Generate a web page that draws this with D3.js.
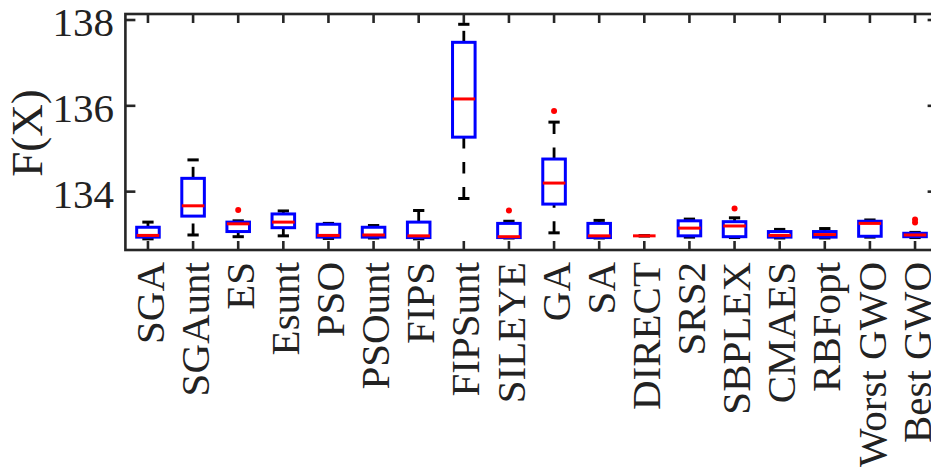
<!DOCTYPE html>
<html>
<head>
<meta charset="utf-8">
<script src="https://cdn.jsdelivr.net/npm/d3@7"></script>
<style>
    html, body { margin: 0; padding: 0; background: #fff; overflow: hidden; }
</style>
</head>
<body>
<div id="chart"></div>
<script>
        const categories = ["SGA", "SGAunt", "ES", "Esunt", "PSO", "PSOunt", "FIPS", "FIPSunt", "SILEYE", "GA",
            "SA", "DIRECT", "SRS2", "SBPLEX", "CMAES", "RBFopt", "Worst GWO", "Best GWO"];
        const lowerWhisker = [132.90, 132.99, 132.95, 132.97, 132.91, 132.92, 132.90, 133.84, 132.92, 133.04,
            132.92, 132.97, 132.94, 132.93, 132.92, 132.92, 132.94, 132.93];
        const q1 = [132.94, 133.43, 133.07, 133.16, 132.94, 132.94, 132.93, 135.27, 132.93, 133.71,
            132.93, 132.97, 132.97, 132.95, 132.94, 132.94, 132.96, 132.95];
        const median = [132.98, 133.67, 133.25, 133.29, 132.98, 132.99, 132.97, 136.16, 132.95, 134.20,
            132.97, 132.97, 133.15, 133.20, 132.98, 133.00, 133.26, 132.99];
        const q3 = [133.17, 134.31, 133.29, 133.48, 133.24, 133.17, 133.29, 137.48, 133.26, 134.76,
            133.26, 132.97, 133.32, 133.30, 133.07, 133.07, 133.31, 133.03];
        const upperWhisker = [133.29, 134.74, 133.32, 133.55, 133.26, 133.21, 133.56, 137.90, 133.31, 135.62,
            133.33, 132.97, 133.36, 133.39, 133.12, 133.14, 133.34, 133.05];
        const outliers = [[], [], [133.57], [], [], [], [], [], [133.56], [135.88],
            [], [], [], [133.61], [], [], [], [133.28, 133.35]];
        const yTicks = [134, 136, 138];

        const width = 931;
        const height = 474;
        const plotLeft = 125.4, plotRight = 937.6, plotTop = 14, plotBottom = 250;
        const serif = "'Times New Roman', 'Liberation Serif', Tinos, serif";

        const svg = d3.select("#chart")
            .append("svg")
            .attr("width", width)
            .attr("height", height);

        const x = d3.scalePoint()
            .domain(categories)
            .range([plotLeft, plotRight])
            .padding(0.5);

        const y = d3.scaleLinear()
            .domain([132.64, 138.14])
            .range([plotBottom, plotTop]);

        const boxW = x.step() * 0.5;
        const capW = boxW * 0.5;

        const data = categories.map((c, i) => ({
            name: c,
            lo: lowerWhisker[i], q1: q1[i], med: median[i], q3: q3[i], hi: upperWhisker[i],
            out: outliers[i]
        }));

        const g = svg.selectAll("g.box")
            .data(data)
            .join("g")
            .attr("class", "box")
            .attr("transform", d => `translate(${x(d.name)},0)`);

        // whiskers, drawn from the lower value upward (dashed)
        g.append("line")
            .attr("y1", d => y(d.lo)).attr("y2", d => y(d.q1))
            .attr("stroke", "#000").attr("stroke-width", 2.8)
            .attr("stroke-dasharray", "11.5,13.5");
        g.append("line")
            .attr("y1", d => y(d.q3)).attr("y2", d => y(d.hi))
            .attr("stroke", "#000").attr("stroke-width", 2.8)
            .attr("stroke-dasharray", "11.5,13.5");

        // caps
        g.selectAll("line.cap")
            .data(d => [d.lo, d.hi])
            .join("line")
            .attr("class", "cap")
            .attr("x1", -capW / 2).attr("x2", capW / 2)
            .attr("y1", v => y(v)).attr("y2", v => y(v))
            .attr("stroke", "#000").attr("stroke-width", 3);

        // boxes
        g.filter(d => d.q3 > d.q1)
            .append("rect")
            .attr("x", -boxW / 2)
            .attr("width", boxW)
            .attr("y", d => y(d.q3))
            .attr("height", d => y(d.q1) - y(d.q3))
            .attr("fill", "none")
            .attr("stroke", "#0000ff")
            .attr("stroke-width", 3);

        // medians
        g.append("line")
            .attr("x1", -boxW / 2).attr("x2", boxW / 2)
            .attr("y1", d => y(d.med)).attr("y2", d => y(d.med))
            .attr("stroke", "#ff0000").attr("stroke-width", 3);

        // outliers
        g.selectAll("circle")
            .data(d => d.out)
            .join("circle")
            .attr("cx", 0)
            .attr("cy", v => y(v))
            .attr("r", 3)
            .attr("fill", "#ff0000");

        // axes box
        const axisColor = "#262626";
        svg.append("rect")
            .attr("x", plotLeft).attr("y", plotTop)
            .attr("width", plotRight - plotLeft).attr("height", plotBottom - plotTop)
            .attr("fill", "none")
            .attr("stroke", axisColor)
            .attr("stroke-width", 2.6);

        // x ticks (inside, bottom and top)
        svg.selectAll("line.xtick")
            .data(categories.flatMap(c => [[c, plotBottom, plotBottom - 9], [c, plotTop, plotTop + 9]]))
            .join("line")
            .attr("class", "xtick")
            .attr("x1", d => x(d[0])).attr("x2", d => x(d[0]))
            .attr("y1", d => d[1]).attr("y2", d => d[2])
            .attr("stroke", axisColor).attr("stroke-width", 2.6);

        // y ticks (inside, left and right)
        svg.selectAll("line.ytick")
            .data(yTicks.flatMap(t => [[t, plotLeft, plotLeft + 10], [t, plotRight, plotRight - 10]]))
            .join("line")
            .attr("class", "ytick")
            .attr("x1", d => d[1]).attr("x2", d => d[2])
            .attr("y1", d => y(d[0])).attr("y2", d => y(d[0]))
            .attr("stroke", axisColor).attr("stroke-width", 2.6);

        // tick labels
        svg.selectAll("text.ylab")
            .data(yTicks)
            .join("text")
            .attr("class", "ylab")
            .attr("x", 114)
            .attr("y", d => y(d))
            .attr("dy", "0.39em")
            .attr("text-anchor", "end")
            .attr("font-family", serif)
            .attr("font-size", 41)
            .attr("fill", "#222")
            .text(d => d);

        svg.selectAll("text.xlab")
            .data(categories)
            .join("text")
            .attr("class", "xlab")
            .attr("transform", d => `translate(${x(d)},262) rotate(-90)`)
            .attr("dy", "0.38em")
            .attr("text-anchor", "end")
            .attr("font-family", serif)
            .attr("font-size", 41)
            .attr("fill", "#222")
            .text(d => d);

        svg.append("text")
            .attr("transform", `translate(42,133) rotate(-90)`)
            .attr("text-anchor", "middle")
            .attr("font-family", serif)
            .attr("font-size", 45)
            .attr("fill", "#222")
            .text("F(X)");
</script>
</body>
</html>
